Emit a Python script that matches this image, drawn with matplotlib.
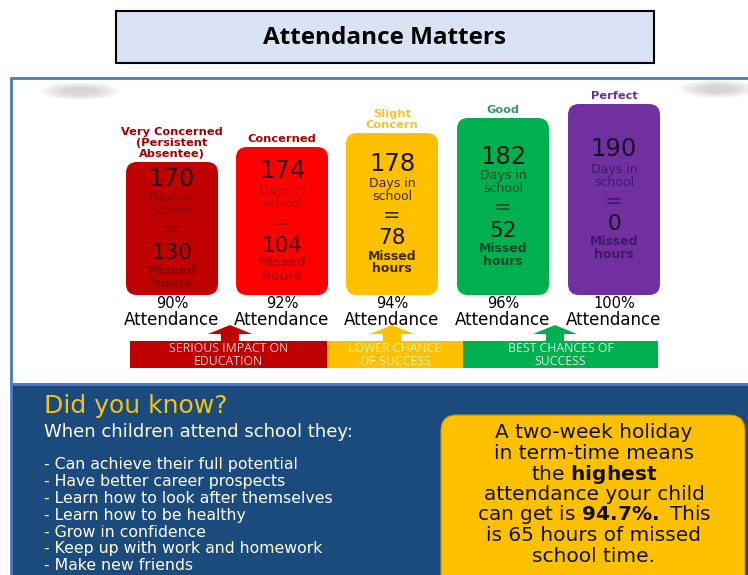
import matplotlib
matplotlib.use("Agg")
import matplotlib.pyplot as plt
from matplotlib.patches import FancyBboxPatch, Rectangle, Polygon, Ellipse

# data
categories = ["Very Concerned\n(Persistent\nAbsentee)", "Concerned", "Slight\nConcern", "Good", "Perfect"]
days_in_school = [170, 174, 178, 182, 190]
missed_hours = [130, 104, 78, 52, 0]
attendance_pct = [90, 92, 94, 96, 100]
band_labels = ["SERIOUS IMPACT ON\nEDUCATION", "LOWER CHANCE\nOF SUCCESS", "BEST CHANCES OF\nSUCCESS"]
benefits = ["Can achieve their full potential", "Have better career prospects",
            "Learn how to look after themselves", "Learn how to be healthy",
            "Grow in confidence", "Keep up with work and homework", "Make new friends"]

box_colors = ["#c00000", "#ff0000", "#ffc000", "#00b050", "#7030a0"]
num_colors = ["#2a0000", "#3a0000", "#1a1400", "#0a1a10", "#1a0a28"]
sub_colors = ["#8a0000", "#b80000", "#3a2a00", "#0b4a2a", "#3e1a66"]
label_colors = ["#a00000", "#b00000", "#f0c43a", "#2e9f6b", "#6a2f96"]
band_colors = ["#c00000", "#ffc000", "#00b050"]
band_text_colors = ["#ffd0d0", "#fff0b0", "#d0f5dc"]

fig = plt.figure(figsize=(7.48, 5.75), dpi=100)
ax = fig.add_axes([0, 0, 1, 1])
ax.set_xlim(0, 748)
ax.set_ylim(575, 0)
ax.axis("off")

comic = "DejaVu Sans"
cal = "Open Sans"

# title box
ax.add_patch(Rectangle((116, 11), 538, 52, facecolor="#dae3f3", edgecolor="black", lw=1.5))
ax.text(385, 38, "Attendance Matters", ha="center", va="center", fontsize=17.5,
        fontweight="bold", family=cal, color="black")

# panel
ax.add_patch(Rectangle((11, 78), 760, 306, facecolor="white", edgecolor="#4a78c8", lw=2))
ax.add_patch(Rectangle((11, 384), 760, 200, facecolor="#1b4a7c", edgecolor="#4a78c8", lw=2))

# soft shadows
for cx, cy in [(80, 91), (718, 89)]:
    for k in range(8):
        ax.add_patch(Ellipse((cx, cy), 80 - k * 7, 18 - k * 1.5, facecolor="#808080",
                             alpha=0.045, lw=0))

# boxes
centers = [172, 282, 392, 503, 614]
tops = [162, 147, 133, 118, 104]
bottom = 295
bw = 92
for i, c in enumerate(centers):
    t = tops[i]
    ax.add_patch(FancyBboxPatch((c - bw / 2, t), bw, bottom - t,
                                boxstyle="round,pad=0,rounding_size=11",
                                facecolor=box_colors[i], edgecolor="none"))
    ax.text(c, t - 3, categories[i], ha="center", va="bottom", fontsize=8.2,
            fontweight="bold", family=comic, color=label_colors[i], linespacing=1.1)
    m = (t + bottom) / 2
    ax.text(c, m - 50, str(days_in_school[i]), ha="center", va="center",
            fontsize=17.5, family=comic, color=num_colors[i])
    ax.text(c, m - 24, "Days in\nschool", ha="center", va="center",
            fontsize=9, family=comic, color=sub_colors[i], linespacing=1.0)
    ax.text(c, m + 2, "=", ha="center", va="center",
            fontsize=15, family=comic, color=sub_colors[i])
    ax.text(c, m + 24.5, str(missed_hours[i]), ha="center", va="center",
            fontsize=15.5, family=comic, color=num_colors[i])
    ax.text(c, m + 48.5, "Missed\nhours", ha="center", va="center",
            fontsize=9, fontweight="bold", family=comic, color=sub_colors[i], linespacing=1.0)
    ax.text(c, 304, f"{attendance_pct[i]}%", ha="center", va="center",
            fontsize=10.5, family=comic, color="black")
    ax.text(c, 320, "Attendance", ha="center", va="center",
            fontsize=12, family=comic, color="black")

# band
band_edges = [130, 327, 463, 658]
for i in range(3):
    x0, x1 = band_edges[i], band_edges[i + 1]
    ax.add_patch(Rectangle((x0, 341), x1 - x0, 27, facecolor=band_colors[i], edgecolor="none"))
    ax.text((x0 + x1) / 2, 355, band_labels[i], ha="center", va="center", fontsize=8.8,
            family=cal, color=band_text_colors[i], linespacing=0.95)

# arrows
for ax_x, col in zip([230, 392, 555], band_colors):
    pts = [(ax_x - 9, 341), (ax_x - 9, 334), (ax_x - 22, 334), (ax_x, 325),
           (ax_x + 22, 334), (ax_x + 9, 334), (ax_x + 9, 341)]
    ax.add_patch(Polygon(pts, closed=True, facecolor=col, edgecolor="none"))

# did you know
ax.text(44, 406, "Did you know?", ha="left", va="center", fontsize=18,
        family=comic, color="#f2c318")
ax.text(44, 432, "When children attend school they:", ha="left", va="center",
        fontsize=13, family=comic, color="white")
for j, b in enumerate(benefits):
    ax.text(44, 465 + j * 16.8, "- " + b, ha="left", va="center", fontsize=11.3,
            family=comic, color="white")

# holiday box
ax.add_patch(FancyBboxPatch((441, 415), 304, 190, boxstyle="round,pad=0,rounding_size=16",
                            facecolor="#ffc000", edgecolor="#c89000", lw=0.8))
hol_lines = ["A two-week holiday", "in term-time means", r"the $\mathbf{highest}$",
             "attendance your child", r"can get is $\mathbf{94.7\%.}$ This",
             "is 65 hours of missed", "school time."]
for j, line in enumerate(hol_lines):
    ax.text(594, 433 + j * 20.5, line, ha="center", va="center", fontsize=14.5,
            family=comic, color="#111111")

fig.savefig("out.png", dpi=100)
